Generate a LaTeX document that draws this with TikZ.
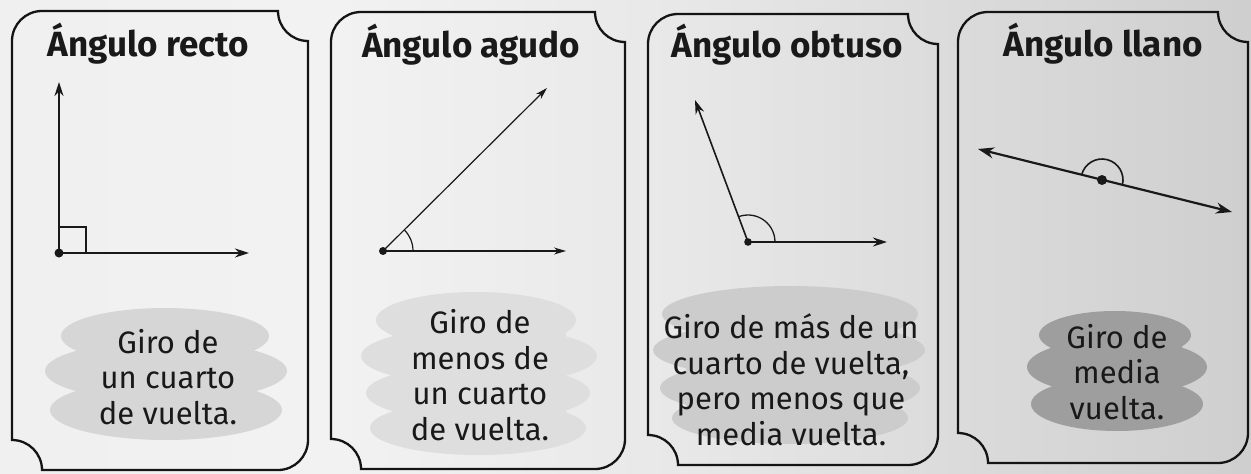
\documentclass[tikz,border=0pt]{standalone}
\usepackage{fontspec}
\setmainfont{Fira Sans}
\usetikzlibrary{arrows.meta}
\definecolor{bgA}{gray}{0.92}
\definecolor{bgB}{gray}{0.95}
\definecolor{bgC}{gray}{0.91}
\definecolor{bgD}{gray}{0.86}
\definecolor{bgE}{gray}{0.79}
\definecolor{bgF}{gray}{0.74}
\definecolor{cardline}{gray}{0.08}
\definecolor{blobA}{gray}{0.84}
\definecolor{blobB}{gray}{0.87}
\definecolor{blobC}{gray}{0.80}
\definecolor{blobD}{gray}{0.62}
\pgfdeclarehorizontalshading{bgshade}{100bp}{color(0bp)=(bgA); color(38bp)=(bgB); color(52bp)=(bgC); color(63bp)=(bgD); color(80bp)=(bgE); color(100bp)=(bgF)}
\newcommand{\mycard}[4]{%
  \draw[cardborder] (#1,#2+30) arc[start angle=180,end angle=270,radius=30]
    -- (#3-30,#2) arc[start angle=180,end angle=90,radius=30]
    -- (#3,#4-30) arc[start angle=0,end angle=90,radius=30]
    -- (#1+30,#4) arc[start angle=0,end angle=-90,radius=30] -- cycle;}
\begin{document}
\begin{tikzpicture}[x=1pt,y=-1pt,
  cardborder/.style={draw=cardline,line width=2.3pt},
  title/.style={anchor=base,inner sep=0pt,font=\bfseries\fontsize{35}{40}\selectfont,text=black!90},
  body/.style={align=center,inner sep=0pt,font=\fontsize{31}{35.5}\selectfont,text=black!90},
  ray/.style={draw=black!90,-{Stealth[length=14pt,width=9pt]}},
  vdot/.style={fill=black!90}]
\useasboundingbox (0,0) rectangle (1251,474);
\shade[shading=bgshade] (0,0) rectangle (1251,474);
% blobs
\begin{scope}[blobA]
\fill (165,336) circle[x radius=104,y radius=28];
\fill (166,371) circle[x radius=121,y radius=30];
\fill (166,410) circle[x radius=116,y radius=30];
\fill[rounded corners=20pt] (80,325) rectangle (252,428);
\end{scope}
\begin{scope}[blobB]
\fill (476,320) circle[x radius=100,y radius=28];
\fill (479,356) circle[x radius=118,y radius=29];
\fill (478,393) circle[x radius=112,y radius=28];
\fill (478,428) circle[x radius=108,y radius=27];
\fill[rounded corners=20pt] (392,308) rectangle (566,442);
\end{scope}
\begin{scope}[blobC]
\fill (790,314) circle[x radius=128,y radius=28];
\fill (789,350) circle[x radius=136,y radius=28];
\fill (790,388) circle[x radius=130,y radius=28];
\fill (790,418) circle[x radius=118,y radius=26];
\fill[rounded corners=20pt] (686,302) rectangle (894,432);
\end{scope}
\begin{scope}[blobD]
\fill (1115,335) circle[x radius=76,y radius=24];
\fill (1117,367) circle[x radius=90,y radius=28];
\fill (1117,404) circle[x radius=86,y radius=27];
\fill[rounded corners=18pt] (1052,324) rectangle (1182,422);
\end{scope}
% cards
\mycard{12}{11}{308}{470}
\mycard{331}{12}{625}{469}
\mycard{648}{14}{938}{465}
\mycard{958}{12}{1248}{463}
% titles
\node[title] (h1) at (148,56) {Ángulo recto};
\node[title] (h2) at (471,57) {Ángulo agudo};
\node[title] (h3) at (787,57) {Ángulo obtuso};
\node[title] (h4) at (1103,56) {Ángulo llano};
% texts
\node[body] (b1) at (168,377) {Giro de\\un cuarto\\de vuelta.};
\node[body] (b2) at (480,375) {Giro de\\menos de\\un cuarto\\de vuelta.};
\node[body] (b3) at (791,380) {Giro de más de un\\cuarto de vuelta,\\pero menos que\\media vuelta.};
\node[body] (b4) at (1117,372) {Giro de\\media\\vuelta.};
% card 1: right angle
\coordinate (v1) at (59,253);
\coordinate (t1a) at (59,82);
\coordinate (t1b) at (249,253);
\draw[ray,line width=2pt] (v1) -- (t1a);
\draw[ray,line width=2pt] (v1) -- (t1b);
\draw[draw=black!90,line width=1.6pt] ([shift={(0,-26)}]v1) -| ([shift={(27,0)}]v1);
\fill[vdot] (v1) circle[radius=4.5];
% card 2: acute
\coordinate (v2) at (383,251);
\coordinate (t2a) at (547,88);
\coordinate (t2b) at (566,251);
\draw[ray,line width=1.2pt,-{Stealth[length=12pt,width=7pt]}] (v2) -- (t2a);
\draw[ray,line width=1.2pt,-{Stealth[length=12pt,width=7pt]}] (v2) -- (t2b);
\draw[draw=black!90,line width=1.2pt] ([shift={(30,0)}]v2) arc[start angle=0,end angle=-45,radius=30];
\fill[vdot] (v2) circle[radius=4];
% card 3: obtuse
\coordinate (v3) at (748,242);
\coordinate (t3a) at (695,100);
\coordinate (t3b) at (887,242);
\draw[ray,line width=1.6pt] (v3) -- (t3a);
\draw[ray,line width=1.6pt] (v3) -- (t3b);
\draw[draw=black!90,line width=1.3pt] ([shift={(27,0)}]v3) arc[start angle=0,end angle=-110.5,radius=27];
\fill[vdot] (v3) circle[radius=3.8];
% card 4: straight
\coordinate (v4) at (1102,180);
\coordinate (t4a) at (978,149);
\coordinate (t4b) at (1232,212);
\draw[draw=black!90,line width=2.2pt,{Stealth[length=16pt,width=11pt,inset=5pt]}-{Stealth[length=16pt,width=11pt,inset=5pt]}] (t4a) -- (t4b);
\draw[draw=black!90,line width=1.6pt] ([shift={(193.9:21)}]v4) arc[start angle=193.9,end angle=373.9,radius=21];
\fill[vdot] (v4) circle[radius=5];
\end{tikzpicture}
\end{document}
